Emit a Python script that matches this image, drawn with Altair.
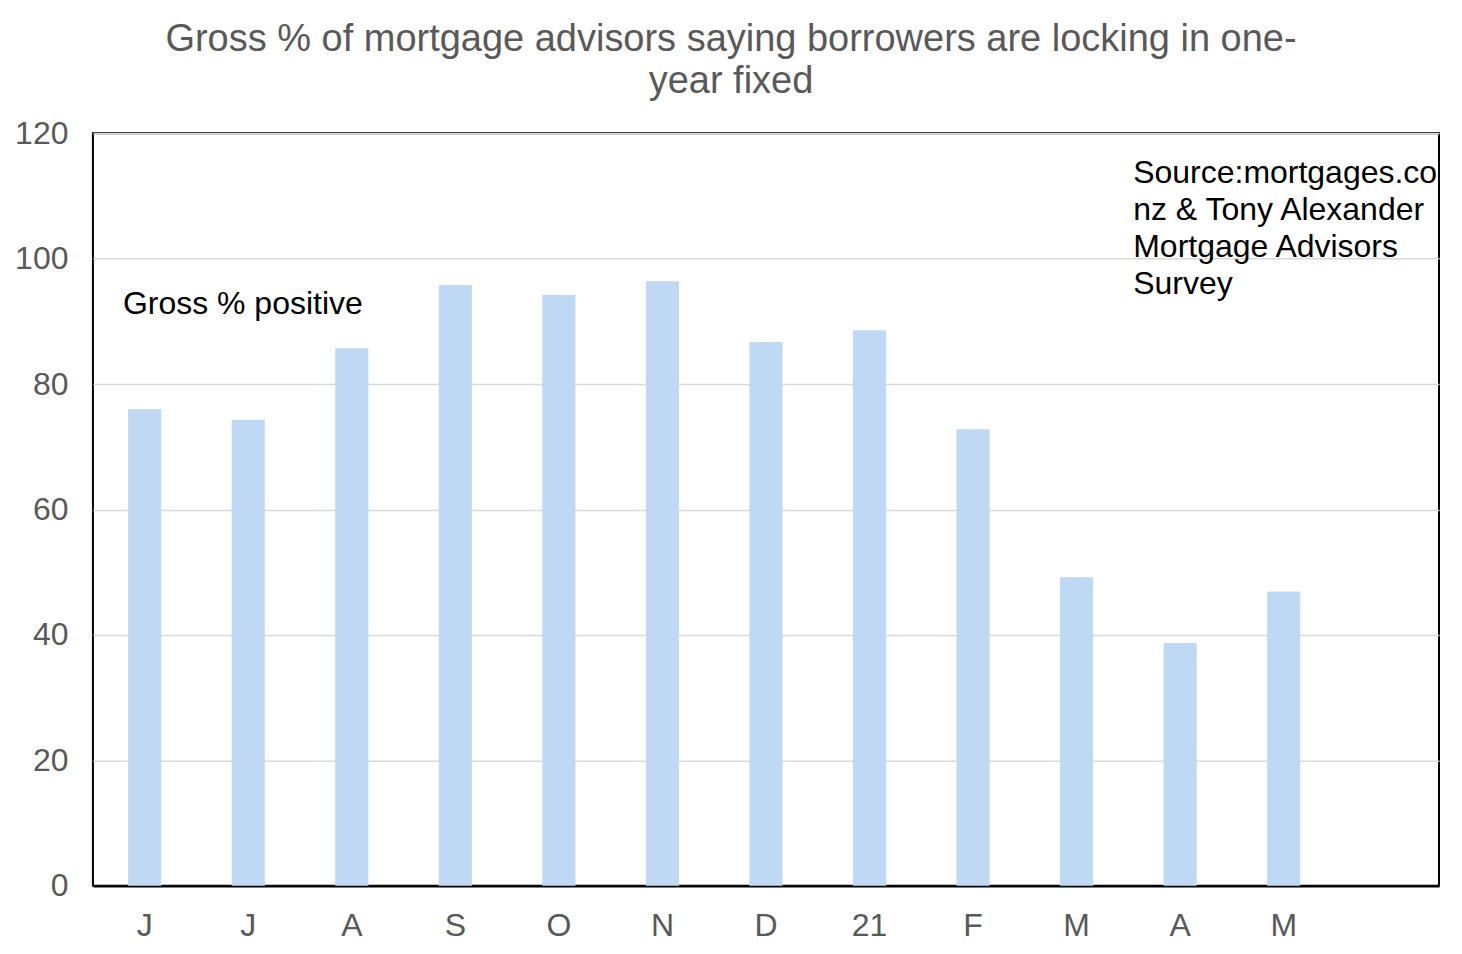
import json
import altair as alt
import pandas as pd

# Data
months = ["J", "J", "A", "S", "O", "N", "D", "21", "F", "M", "A", "M"]
values = [76.0, 74.3, 85.7, 95.8, 94.2, 96.4, 86.7, 88.6, 72.8, 49.2, 38.7, 46.9]
slots = list(range(13))  # 12 months plus one empty slot on the right
y_ticks = [0, 20, 40, 60, 80, 100, 120]

title_lines = ["Gross % of mortgage advisors saying borrowers are locking in one-", "year fixed"]
series_label = "Gross % positive"
source_lines = ["Source:mortgages.co.", "nz & Tony Alexander", "Mortgage Advisors", "Survey"]

df = pd.DataFrame({"idx": list(range(len(months))), "month": months, "value": values})

label_arr = json.dumps(months + [""])
FONT = "Liberation Sans"
GREY = "#595959"

bars = alt.Chart(df).mark_bar(color="#BFD9F4").encode(
    x=alt.X(
        "idx:O",
        scale=alt.Scale(domain=slots, paddingInner=0.68, paddingOuter=0.34),
        axis=alt.Axis(
            title=None,
            labelExpr=f"{label_arr}[datum.value]",
            labelAngle=0,
            ticks=False,
            domain=True,
            domainColor="#000000",
            domainWidth=2.5,
            labelPadding=25,
            labelFontSize=32,
            labelColor=GREY,
            labelFont=FONT,
        ),
    ),
    y=alt.Y(
        "value:Q",
        scale=alt.Scale(domain=[0, 120], nice=False),
        axis=alt.Axis(
            title=None,
            values=y_ticks,
            ticks=False,
            tickSize=0,
            domain=False,
            labelPadding=25,
            labelFontSize=32,
            labelColor=GREY,
            labelFont=FONT,
            gridColor="#D9D9D9",
            gridWidth=1.5,
        ),
    ),
)

ann_data = alt.Data(values=[{"a": 1}])

series_text = alt.Chart(ann_data).mark_text(
    text=series_label, align="left", baseline="alphabetic",
    fontSize=32, font=FONT, color="#000000",
).encode(x=alt.value(30), y=alt.value(181))

source_text = alt.Chart(ann_data).mark_text(
    text=source_lines, align="left", baseline="alphabetic",
    fontSize=32, font=FONT, color="#000000", lineHeight=37, clip=True,
).encode(x=alt.value(1041), y=alt.value(50))

chart = alt.layer(bars, series_text, source_text).properties(
    width=1347,
    height=753,
    autosize=alt.AutoSizeParams(type="none"),
    padding={"left": 85, "top": 125, "right": 15, "bottom": 60},
    title=alt.TitleParams(
        text=title_lines,
        anchor="middle",
        dx=-35,
        offset=16,
        fontSize=38,
        font=FONT,
        fontWeight="normal",
        color=GREY,
        lineHeight=42,
    ),
).configure(
    background="white"
).configure_view(
    stroke="#000000", strokeWidth=2
)

chart.save("out.html", embed_options={"renderer": "svg", "actions": False})
